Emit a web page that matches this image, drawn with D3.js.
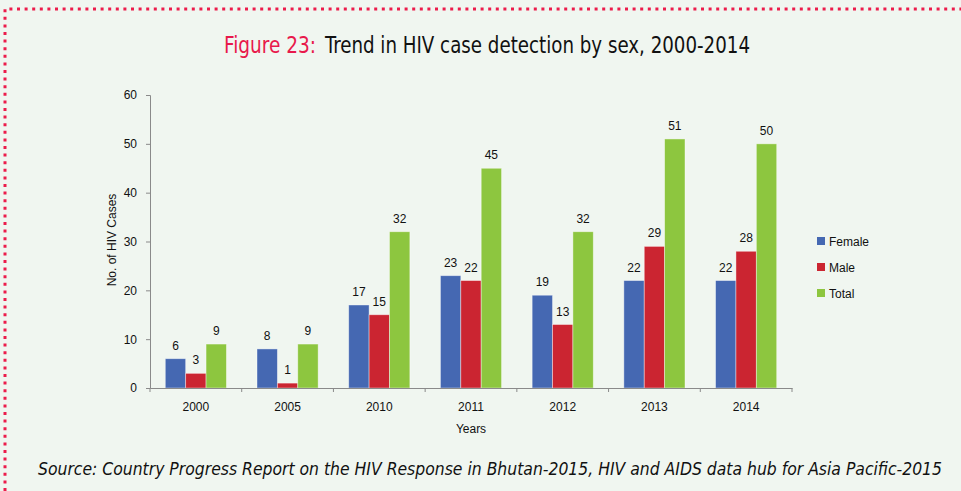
<!DOCTYPE html>
<html>
<head>
<meta charset="utf-8">
<script src="https://cdn.jsdelivr.net/npm/d3@7"></script>
<style>
  body { margin: 0; background: #f0f6f0; }
  svg { display: block; }
  .tick-label, .value-label, .legend-text, .axis-title { font-family: 'Liberation Sans', Arial, sans-serif; font-size: 12px; fill: #111; }
  .title-text { font-family: 'DejaVu Sans Condensed', 'Liberation Sans Narrow', sans-serif; font-size: 23px; }
</style>
</head>
<body>
<svg id="chart" width="961" height="491"></svg>
<script>
// data
var years = ['2000', '2005', '2010', '2011', '2012', '2013', '2014']
var series = ['Female', 'Male', 'Total']
var female = [6, 8, 17, 23, 19, 22, 22]
var male = [3, 1, 15, 22, 13, 29, 28]
var total = [9, 9, 32, 45, 32, 51, 50]
var y_ticks = [0, 10, 20, 30, 40, 50, 60]

var colors = { 'Female': '#4568b2', 'Male': '#cb2531', 'Total': '#8dc63f' }
var values = { 'Female': female, 'Male': male, 'Total': total }

var svg = d3.select('#chart')

// background + dotted frame
svg.append('rect').attr('width', 961).attr('height', 491).attr('fill', '#f0f6f0')
svg.append('path')
  .attr('d', 'M5,491 L5,9 L961,9')
  .attr('fill', 'none')
  .attr('stroke', '#ec1c4b')
  .attr('stroke-width', 3)
  .attr('stroke-dasharray', '3,4.6')

// title, two pieces
svg.append('text')
  .attr('class', 'title-text')
  .attr('x', 224).attr('y', 53)
  .attr('fill', '#e8194b')
  .attr('textLength', 92).attr('lengthAdjust', 'spacingAndGlyphs')
  .text('Figure 23:')
svg.append('text')
  .attr('class', 'title-text')
  .attr('x', 325).attr('y', 53)
  .attr('fill', '#111')
  .attr('textLength', 425).attr('lengthAdjust', 'spacingAndGlyphs')
  .text('Trend in HIV case detection by sex, 2000-2014')

// scales
var x = d3.scaleBand().domain(years).range([150, 792]).paddingInner(0).paddingOuter(0)
var y = d3.scaleLinear().domain([0, 60]).range([388, 95])
var inner = d3.scaleBand().domain(series).range([0, x.bandwidth()]).paddingInner(0).paddingOuter(0.75)

// y axis
var y_axis = svg.append('g')
  .attr('transform', 'translate(150,0)')
  .call(d3.axisLeft(y).tickValues(y_ticks).tickSize(4).tickPadding(9))
y_axis.select('.domain').attr('stroke', '#8a8a8a')
y_axis.selectAll('.tick line').attr('stroke', '#8a8a8a')
y_axis.selectAll('.tick text').attr('class', 'tick-label')

// bars
series.forEach(function(s) {
  var g = svg.append('g').attr('class', 'series-' + s)
  g.selectAll('rect')
    .data(years)
    .enter()
    .append('rect')
    .attr('x', function(d) { return x(d) + inner(s) })
    .attr('y', function(d, i) { return y(values[s][i]) })
    .attr('width', inner.bandwidth())
    .attr('height', function(d, i) { return y(0) - y(values[s][i]) })
    .attr('fill', colors[s])
    .attr('stroke', 'rgba(255,255,255,0.5)')
    .attr('stroke-width', 0.8)
  g.selectAll('text')
    .data(years)
    .enter()
    .append('text')
    .attr('class', 'value-label')
    .attr('text-anchor', 'middle')
    .attr('x', function(d) { return x(d) + inner(s) + inner.bandwidth() / 2 })
    .attr('y', function(d, i) { return y(values[s][i]) - 9 })
    .text(function(d, i) { return values[s][i] })
})

// x axis
var x_axis = svg.append('g')
  .attr('transform', 'translate(0,388)')
  .call(d3.axisBottom(x).tickSize(0).tickPadding(14))
x_axis.select('.domain').attr('stroke', '#8a8a8a')
x_axis.selectAll('.tick text').attr('class', 'tick-label')
// tick marks between categories
svg.append('g').selectAll('line')
  .data(d3.range(years.length + 1))
  .enter()
  .append('line')
  .attr('x1', function(i) { return 150 + i * x.step() })
  .attr('x2', function(i) { return 150 + i * x.step() })
  .attr('y1', 388).attr('y2', 392)
  .attr('stroke', '#8a8a8a')

// axis titles
svg.append('text')
  .attr('class', 'axis-title')
  .attr('text-anchor', 'middle')
  .attr('x', 471).attr('y', 433)
  .text('Years')
svg.append('text')
  .attr('class', 'axis-title')
  .attr('text-anchor', 'middle')
  .attr('transform', 'translate(116,240) rotate(-90)')
  .text('No. of HIV Cases')

// legend
var legend = svg.append('g').attr('transform', 'translate(817,237)')
legend.selectAll('rect')
  .data(series)
  .enter()
  .append('rect')
  .attr('x', 0)
  .attr('y', function(d, i) { return i * 26 })
  .attr('width', 8).attr('height', 8)
  .attr('fill', function(d) { return colors[d] })
legend.selectAll('text')
  .data(series)
  .enter()
  .append('text')
  .attr('class', 'legend-text')
  .attr('x', 12)
  .attr('y', function(d, i) { return i * 26 + 8.5 })
  .text(function(d) { return d })

// source
svg.append('text')
  .attr('x', 38).attr('y', 475)
  .style('font-family', "'DejaVu Sans Condensed', 'Liberation Sans Narrow', sans-serif")
  .style('font-size', '17px')
  .style('font-style', 'italic')
  .attr('fill', '#111')
  .attr('textLength', 904).attr('lengthAdjust', 'spacingAndGlyphs')
  .text('Source: Country Progress Report on the HIV Response in Bhutan-2015, HIV and AIDS data hub for Asia Pacific-2015')
</script>
</body>
</html>
